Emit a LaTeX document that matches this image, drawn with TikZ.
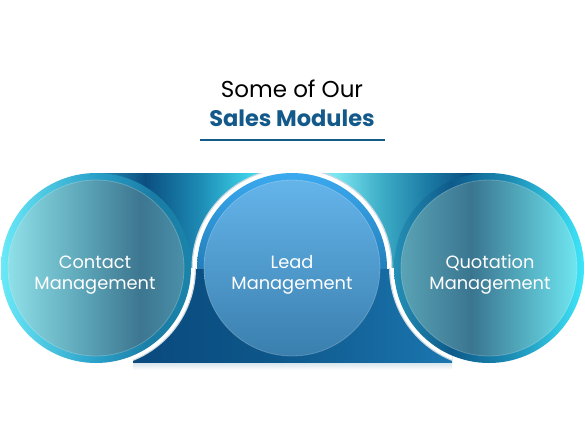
\documentclass[tikz,border=0pt]{standalone}
\usepackage{fontspec}
\setmainfont{Poppins}
\usetikzlibrary{calc}
\definecolor{titleblue}{HTML}{13598A}
\definecolor{lr0}{HTML}{2A92B8}\definecolor{lr1}{HTML}{0B4F80}\definecolor{lr2}{HTML}{1D8BB5}\definecolor{lr3}{HTML}{3FD6EC}\definecolor{lr4}{HTML}{55E2F2}
\definecolor{rr0}{HTML}{8AEEF5}\definecolor{rr1}{HTML}{7AE6F0}\definecolor{rr2}{HTML}{3EAEC8}\definecolor{rr3}{HTML}{1A78A2}\definecolor{rr4}{HTML}{0A4F80}\definecolor{rr5}{HTML}{1A6A98}
\definecolor{br0}{HTML}{0A4A7E}\definecolor{br1}{HTML}{0D5588}\definecolor{br2}{HTML}{1B76B0}
\definecolor{lg0}{HTML}{6AE9F8}\definecolor{lg1}{HTML}{2AA0C8}\definecolor{lg2}{HTML}{1A7CA5}\definecolor{lg3}{HTML}{1A84AA}
\definecolor{li0}{HTML}{8FE0E8}\definecolor{li1}{HTML}{5AA2B5}\definecolor{li2}{HTML}{3D7690}\definecolor{li3}{HTML}{4A8FA8}
\definecolor{rg0}{HTML}{2590B5}\definecolor{rg1}{HTML}{0D5A8A}\definecolor{rg2}{HTML}{1A8AB2}\definecolor{rg3}{HTML}{3EE6FA}
\definecolor{ri0}{HTML}{5AA3B5}\definecolor{ri1}{HTML}{3A7590}\definecolor{ri2}{HTML}{6EE6F0}
\definecolor{mgtop}{HTML}{3AA9EF}\definecolor{mgmid}{HTML}{175F9C}\definecolor{mgbot}{HTML}{0D5588}
\definecolor{mitop}{HTML}{64B4EA}\definecolor{mibot}{HTML}{3A7FAE}
\definecolor{glowedge}{HTML}{C8D8E2}
\definecolor{shadowc}{HTML}{D3E1EA}
\pgfdeclarehorizontalshading{leftrectsh}{100bp}{color(0bp)=(lr0); color(25bp)=(lr0); color(37.5bp)=(lr1); color(51.5bp)=(lr2); color(65bp)=(lr3); color(75bp)=(lr4); color(100bp)=(lr4)}
\pgfdeclarehorizontalshading{rightrectsh}{100bp}{color(0bp)=(rr0); color(25bp)=(rr0); color(36bp)=(rr1); color(47.5bp)=(rr2); color(60bp)=(rr3); color(70bp)=(rr4); color(75bp)=(rr5); color(100bp)=(rr5)}
\pgfdeclarehorizontalshading{bottomrectsh}{100bp}{color(0bp)=(br0); color(25bp)=(br0); color(45bp)=(br1); color(75bp)=(br2); color(100bp)=(br2)}
\pgfdeclarehorizontalshading{leftringsh}{100bp}{color(0bp)=(lg0); color(25bp)=(lg0); color(50bp)=(lg1); color(65bp)=(lg2); color(75bp)=(lg3); color(100bp)=(lg3)}
\pgfdeclarehorizontalshading{leftinnersh}{100bp}{color(0bp)=(li0); color(25bp)=(li0); color(47.5bp)=(li1); color(62.5bp)=(li2); color(75bp)=(li3); color(100bp)=(li3)}
\pgfdeclarehorizontalshading{rightringsh}{100bp}{color(0bp)=(rg0); color(25bp)=(rg0); color(40bp)=(rg1); color(55bp)=(rg2); color(75bp)=(rg3); color(100bp)=(rg3)}
\pgfdeclarehorizontalshading{rightinnersh}{100bp}{color(0bp)=(ri0); color(25bp)=(ri0); color(45bp)=(ri1); color(75bp)=(ri2); color(100bp)=(ri2)}
\tikzset{
  label text/.style={text=white, align=center, font=\fontsize{17.8}{21}\selectfont},
  inner edge/.style={draw=white, draw opacity=0.22, line width=0.8pt},
}
\begin{document}
\begin{tikzpicture}[x=1pt,y=-1pt]
\useasboundingbox (0,0) rectangle (585,445);
% bottom shadow
\shade[top color=shadowc, bottom color=white] (133,362) rectangle (452,370);
% bottom (middle) band
\shade[shading=bottomrectsh] (133,268) rectangle (452,362);
% top bands
\shade[shading=leftrectsh] (96,173) rectangle (292,268);
\shade[shading=rightrectsh] (292,173) rectangle (489,268);
% middle glow, only over the top bands
\begin{scope}
\clip (96,173) rectangle (489,268);
\fill[glowedge] (292,268) circle[radius=100.5pt];
\fill[white] (292,268) circle[radius=99.2pt];
\end{scope}
% middle ring, upper half
\begin{scope}
\clip (0,0) rectangle (585,268);
\shade[top color=mgtop, middle color=mgmid, bottom color=mgbot] (292,268) circle[radius=95pt];
\end{scope}
% side glows, only over the bottom band
\begin{scope}
\clip (133,268) rectangle (452,362);
\fill[glowedge] (96,268) circle[radius=100pt];
\fill[white] (96,268) circle[radius=98.8pt];
\fill[glowedge] (489,268) circle[radius=100pt];
\fill[white] (489,268) circle[radius=98.8pt];
\end{scope}
% left circle
\shade[shading=leftringsh] (96,268) circle[radius=95pt];
\shade[shading=leftinnersh] (96,268) circle[radius=88pt];
\draw[inner edge] (96,268) circle[radius=88pt];
% right circle
\shade[shading=rightringsh] (489,268) circle[radius=95pt];
\shade[shading=rightinnersh] (489,268) circle[radius=88pt];
\draw[inner edge] (489,268) circle[radius=88pt];
% middle inner
\shade[top color=mitop, bottom color=mibot] (292,268) circle[radius=88pt];
\draw[inner edge] (292,268) circle[radius=88pt];
% labels
\node[label text] (contact) at (95,275) {Contact\\Management};
\node[label text] (lead) at (292,275) {Lead\\Management};
\node[label text] (quote) at (490,275) {Quotation\\Management};
% title
\node[font=\fontsize{23}{26}\selectfont, text=black] (t1) at (292,89) {Some of Our};
\node[font=\bfseries\fontsize{22.5}{25}\selectfont, text=titleblue] (t2) at (292,118) {Sales Modules};
\coordinate (ulA) at (200,140);
\coordinate (ulB) at (385,140);
\draw[titleblue, line width=2pt] (ulA) -- (ulB);
\end{tikzpicture}
\end{document}
